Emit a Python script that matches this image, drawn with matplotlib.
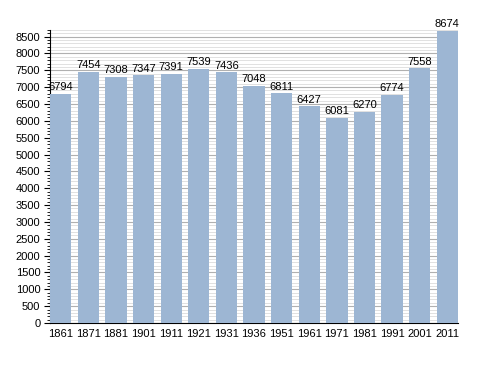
import numpy as np
import matplotlib
matplotlib.use("Agg")
from matplotlib import pyplot as plt
from matplotlib.ticker import MultipleLocator

years = ["1861", "1871", "1881", "1901", "1911", "1921", "1931", "1936",
         "1951", "1961", "1971", "1981", "1991", "2001", "2011"]
population = [6794, 7454, 7308, 7347, 7391, 7539, 7436, 7048,
              6811, 6427, 6081, 6270, 6774, 7558, 8674]

plt.rcParams['font.family'] = ['Liberation Sans', 'DejaVu Sans']

fig = plt.figure(figsize=(4.88, 3.73), dpi=100)
ax = fig.add_axes([0.1025, 0.134, 0.836, 0.786])

x = np.arange(len(years))
w = 0.77
ax.bar(x, population, width=w, color='#9db6d3', zorder=3)
for xi, v in zip(x, population):
    ax.text(xi, v + 50, str(v), ha='center', va='bottom', fontsize=8, zorder=4)

ax.set_xlim(-w / 2, len(years) - 1 + w / 2)
ax.set_ylim(0, 8700)
ax.set_xticks(x)
ax.set_xticklabels(years, fontsize=8)
ax.tick_params(axis='x', length=0, pad=4)
ax.yaxis.set_major_locator(MultipleLocator(500))
ax.yaxis.set_minor_locator(MultipleLocator(100))
ax.tick_params(axis='y', which='major', length=4, labelsize=8, pad=3)
ax.tick_params(axis='y', which='minor', length=2)
ax.grid(axis='y', which='major', color='#b0b0b0', lw=0.8, zorder=0)
ax.grid(axis='y', which='minor', color='#dcdcdc', lw=0.6, zorder=0)
for s in ['top', 'right']:
    ax.spines[s].set_visible(False)

fig.savefig("out.png", dpi=100)
